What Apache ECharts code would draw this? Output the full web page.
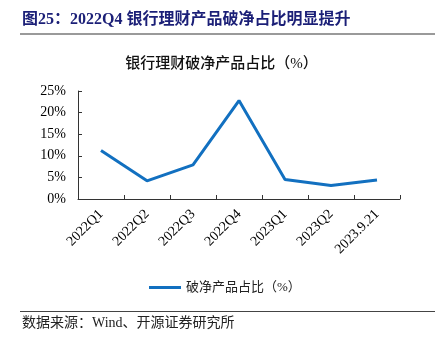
<!DOCTYPE html>
<html>
<head>
<meta charset="utf-8">
<script src="https://cdn.jsdelivr.net/npm/echarts@6/dist/echarts.min.js"></script>
<style>
html,body{margin:0;padding:0;background:#fff;}
#c{width:443px;height:340px;}
</style>
</head>
<body>
<div id="c"></div>
<script>
const categories = ['2022Q1','2022Q2','2022Q3','2022Q4','2023Q1','2023Q2','2023.9.21'];
const seriesName = '破净产品占比（%）';
const ratioValues = [11.2, 4.2, 7.9, 22.8, 4.5, 3.1, 4.4];
const yTicks = [0, 5, 10, 15, 20, 25];
const figTitle = '图25：2022Q4 银行理财产品破净占比明显提升';
const chartTitle = '银行理财破净产品占比（%）';
const sourceText = '数据来源：Wind、开源证券研究所';

const serif = '"Liberation Serif","Times New Roman","Noto Sans CJK SC",serif';
const chart = echarts.init(document.getElementById('c'), null, {renderer:'canvas'});
chart.setOption({
  animation:false,
  backgroundColor:'#fff',
  title:{
    text: chartTitle,
    left:'center', top:52,
    textStyle:{fontFamily:serif, fontSize:15, fontWeight:500, color:'#111'}
  },
  grid:{left:78, right:43, top:91, bottom:141, containLabel:false},
  legend:{
    data:[seriesName],
    left:144, top:276,
    icon:'rect', itemWidth:32, itemHeight:3, itemGap:10,
    textStyle:{fontFamily:serif, fontSize:13, color:'#222'}
  },
  xAxis:{
    type:'category', data:categories, boundaryGap:true,
    axisLine:{lineStyle:{color:'#333', width:1}},
    axisTick:{show:true, inside:true, length:4, alignWithLabel:false, lineStyle:{color:'#333'}},
    axisLabel:{rotate:45, interval:0, margin:13, fontFamily:serif, fontSize:14, color:'#000'}
  },
  yAxis:{
    type:'value', min:yTicks[0], max:yTicks[yTicks.length-1], interval:5,
    axisLine:{show:true, lineStyle:{color:'#333', width:1}},
    axisTick:{show:true, inside:true, length:4, lineStyle:{color:'#333'}},
    splitLine:{show:false},
    axisLabel:{formatter:'{value}%', margin:12, fontFamily:serif, fontSize:14, color:'#000'}
  },
  series:[{
    name:seriesName, type:'line', data:ratioValues,
    symbol:'none', lineStyle:{color:'#1270C0', width:3}, itemStyle:{color:'#1270C0'}
  }],
  graphic:[
    {type:'text', left:22, top:12, style:{text:figTitle, fontFamily:serif, fontSize:16, fontWeight:'bold', fill:'#1B1F77'}},
    {type:'rect', shape:{x:20, y:33, width:415, height:2}, style:{fill:'#9a9a9a'}},
    {type:'rect', shape:{x:20, y:311, width:415, height:1}, style:{fill:'#444'}},
    {type:'text', left:22, top:316, style:{text:sourceText, fontFamily:serif, fontSize:14, fill:'#222'}}
  ]
});
</script>
</body>
</html>
